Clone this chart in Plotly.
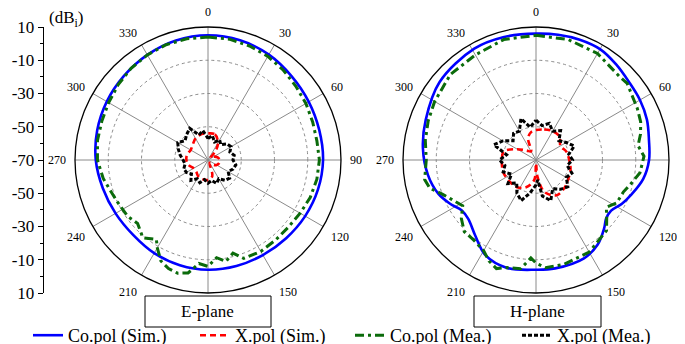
import plotly.graph_objects as go

FONT = "Liberation Serif, Times New Roman, serif"

# ---------------- data (dBi) ----------------
angle_labels = ["0", "30", "60", "90", "120", "150", "", "210", "240", "270", "300", "330"]
angle_ticks = [0, 30, 60, 90, 120, 150, 180, 210, 240, 270, 300, 330]

# E-plane
e_co_sim_theta = [0, 15, 30, 45, 60, 75, 90, 105, 120, 135, 150, 165, 180, 195, 210, 225, 240, 255, 270, 285, 300, 315, 330, 345]
e_co_sim_r = [5, 4.5, 3.2, 1.2, 0, -0.7, -0.8, -1.5, -2.5, -3.5, -4.0, -4.0, -4.0, -4.5, -5.3, -6.3, -5.8, -4.5, -2.5, -1.0, 0.3, 1.5, 3.0, 4.4]

e_x_sim_theta = [0, 15, 30, 40, 48, 60, 75, 90, 105, 120, 135, 150, 165, 180, 195, 210, 225, 240, 255, 270, 285, 300, 315, 330, 345]
e_x_sim_r = [-54, -54, -58, -63, -68, -66, -64, -63, -63, -64, -66, -68, -60, -58, -58, -58.5, -60, -60, -58, -57, -57, -58, -57, -55, -54]

e_co_mea_theta = [0, 10, 20, 30, 40, 50, 60, 70, 80, 90, 100, 110, 120, 130, 140, 150, 160, 165, 170, 175, 180, 185, 190, 195, 200, 205, 210, 213, 220, 228, 235, 245, 252, 260, 270, 280, 290, 300, 310, 320, 330, 340, 350]
e_co_mea_r = [4, 3.8, 3, 2, 0.5, -1, -2, -3, -3.5, -3, -3.5, -4.5, -6, -7, -7, -6.5, -7, -12, -8, -11, -6, -7.5, -1, 0.5, -0.5, -3, -9, -13, -9, -13, -11, -10, -8.6, -6, -3.5, -2.5, -2, -1, 0.5, 2, 3, 3.8, 4]

e_x_mea_theta = [0, 10, 20, 30, 40, 50, 60, 70, 80, 90, 100, 110, 120, 130, 140, 150, 160, 170, 180, 190, 200, 210, 220, 230, 240, 250, 260, 270, 280, 290, 300, 310, 320, 330, 340, 350]
e_x_mea_r = [-57, -55, -58.5, -56, -58, -55, -54, -56, -54, -55, -53, -54, -56, -53, -54, -57, -55, -57.5, -56, -58, -55.5, -57, -54, -57, -55, -54.5, -56, -55, -53, -51, -49, -52, -50, -48, -54, -52]

# H-plane
h_co_sim_theta = [0, 10, 20, 30, 40, 50, 60, 70, 80, 90, 100, 110, 117, 124, 130, 135, 144, 154, 170, 180, 195, 208, 219, 229, 236, 243, 251, 262, 276, 290, 309, 331, 345]
h_co_sim_r = [6, 6.5, 7, 7, 5, 3, 2.2, 1, -1, -2, -4.5, -9, -12, -15.5, -15, -12, -7, -4.2, -3.8, -4, -2.8, -5.2, -11.8, -16, -16, -12, -7.8, -4.4, -1.6, 0.6, 4.6, 6.6, 6.5]

h_x_sim_theta = [0, 15, 30, 45, 60, 75, 90, 105, 120, 135, 150, 165, 175, 180, 185, 200, 215, 230, 250, 270, 285, 300, 315, 330, 340, 350]
h_x_sim_r = [-52, -51, -50, -50, -53, -51, -50, -48.5, -47.5, -46, -45.5, -50, -60, -68, -58, -52.5, -50, -49.5, -49, -49.5, -50, -57, -62, -64, -56, -53]

h_co_mea_theta = [0, 15, 30, 45, 50, 63, 70, 76, 82, 88, 97, 103, 110, 118, 124, 128, 135, 150, 165, 175, 180, 183, 188, 195, 200, 205, 210, 218, 225, 232, 238, 245, 250, 255, 260, 270, 280, 290, 300, 315, 330, 345]
h_co_mea_r = [5, 5, 4, 1, 1.6, -1.6, -3, -5.2, -8, -5, -7, -10.6, -14, -15, -19, -16, -10, -6, -5, -5, -8, -11, -4, -3, -0.5, -3, -7, -9, -9, -13, -18, -14, -10, -4, -2, -4, -2.4, -1, 0.4, 2.8, 3, 5]

h_x_mea_theta = [0, 10, 20, 30, 40, 50, 60, 70, 80, 90, 100, 110, 120, 130, 140, 150, 160, 170, 175, 180, 190, 200, 210, 220, 230, 240, 250, 260, 270, 280, 290, 300, 310, 320, 330, 340, 350]
h_x_mea_r = [-46, -49, -46.5, -50, -47, -52, -49, -45.5, -50, -48, -51, -47, -49, -45, -47, -50, -44, -48, -58, -55, -50, -44, -47, -52, -48, -53, -49, -51, -48, -52, -43, -47, -52, -49, -50, -43.5, -50]

series_names = ["Co.pol (Sim.)", "X.pol (Sim.)", "Co.pol (Mea.)", "X.pol (Mea.)"]
left_ticks = [-80, -60, -40, -20, 0, 20, 40, 60, 80]
left_labels = ["10", "-10", "-30", "-50", "-70", "-50", "-30", "-10", "10"]


def closed(a):
    return list(a) + [a[0]]


styles = [
    dict(color="#0000FF", width=2.6, dash="solid"),
    dict(color="#FF0000", width=2.6, dash="6px,4px"),
    dict(color="#0B6B0B", width=3, dash="9px,4px,3px,4px"),
    dict(color="#000000", width=3, dash="4px,2px"),
]

fig = go.Figure()

planes = [
    ("polar", [(e_co_sim_theta, e_co_sim_r), (e_x_sim_theta, e_x_sim_r), (e_co_mea_theta, e_co_mea_r), (e_x_mea_theta, e_x_mea_r)]),
    ("polar2", [(h_co_sim_theta, h_co_sim_r), (h_x_sim_theta, h_x_sim_r), (h_co_mea_theta, h_co_mea_r), (h_x_mea_theta, h_x_mea_r)]),
]
legend_ids = ["legend", "legend2", "legend3", "legend4"]
for pi, (sub, data) in enumerate(planes):
    for si, (th, rr) in enumerate(data):
        st = styles[si]
        shape = "spline" if si in (0, 1) else "linear"
        fig.add_trace(go.Scatterpolar(
            theta=closed(th), r=closed(rr), subplot=sub, mode="lines",
            name=series_names[si],
            line=dict(color=st["color"], width=st["width"], dash=st["dash"], shape=shape),
            showlegend=(pi == 0), legend=legend_ids[si], hoverinfo="skip"))

# dummy trace so the left dB scale axis is drawn
fig.add_trace(go.Scatter(x=[0.5], y=[0], mode="markers", marker=dict(opacity=0),
                         showlegend=False, hoverinfo="skip", xaxis="x", yaxis="y"))

W, H = 685, 344
R = 133
cy = 152
ydom = [(H - cy - R) / H, (H - cy + R) / H]


def polar_layout(cx):
    return dict(
        domain=dict(x=[(cx - R) / W, (cx + R) / W], y=ydom),
        bgcolor="white",
        angularaxis=dict(rotation=90, direction="clockwise", tickvals=angle_ticks, ticktext=angle_labels,
                         showline=True, linecolor="black", linewidth=1.3, gridcolor="#8a8a8a", gridwidth=0.7,
                         ticks="outside", ticklen=6, tickcolor="rgba(0,0,0,0)",
                         tickfont=dict(family=FONT, size=12, color="black")),
        radialaxis=dict(range=[-70, 10], tickvals=[-50, -30, -10], showticklabels=False, showline=False,
                        ticks="", gridcolor="#8a8a8a", gridwidth=0.7, griddash="dot"),
    )


legend_x_px = [20, 187, 342, 509]
leg = {}
for i, lid in enumerate(legend_ids):
    leg[lid] = dict(x=legend_x_px[i] / W, y=(H - 309) / H, xanchor="left", yanchor="top",
                    orientation="h", bgcolor="rgba(0,0,0,0)", borderwidth=0,
                    font=dict(family=FONT, size=18, color="black"), itemwidth=30)

fig.update_layout(
    width=W, height=H, margin=dict(l=0, r=0, t=0, b=0, autoexpand=False),
    paper_bgcolor="white", plot_bgcolor="white",
    font=dict(family=FONT),
    polar=polar_layout(200), polar2=polar_layout(528),
    xaxis=dict(domain=[35.7 / W, 0.09], range=[0, 1], visible=False),
    yaxis=dict(domain=ydom, range=[-80, 80], tickvals=left_ticks, ticktext=left_labels,
               showline=True, linecolor="black", linewidth=1, ticks="outside", ticklen=5,
               tickcolor="black", showgrid=False, zeroline=False,
               minor=dict(dtick=10, ticks="outside", ticklen=3, tickcolor="black", showgrid=False),
               tickfont=dict(family=FONT, size=17, color="black")),
    showlegend=True,
    **leg,
    shapes=[
        dict(type="rect", xref="paper", yref="paper", x0=137 / W, x1=263 / W, y0=(H - 319) / H, y1=(H - 288) / H,
             fillcolor="white", line=dict(color="black", width=1), layer="above"),
        dict(type="rect", xref="paper", yref="paper", x0=466 / W, x1=593 / W, y0=(H - 319) / H, y1=(H - 288) / H,
             fillcolor="white", line=dict(color="black", width=1), layer="above"),
    ],
    annotations=[
        dict(text="E-plane", x=200 / W, y=(H - 303.5) / H, xref="paper", yref="paper", showarrow=False,
             xanchor="center", yanchor="middle", font=dict(family=FONT, size=17, color="black")),
        dict(text="H-plane", x=529.5 / W, y=(H - 303.5) / H, xref="paper", yref="paper", showarrow=False,
             xanchor="center", yanchor="middle", font=dict(family=FONT, size=17, color="black")),
        dict(text="(dB<sub>i</sub>)", x=39 / W, y=(H - 11) / H, xref="paper", yref="paper", showarrow=False,
             xanchor="left", yanchor="middle", font=dict(family=FONT, size=17, color="black")),
    ],
)

fig.write_html("out.html")
